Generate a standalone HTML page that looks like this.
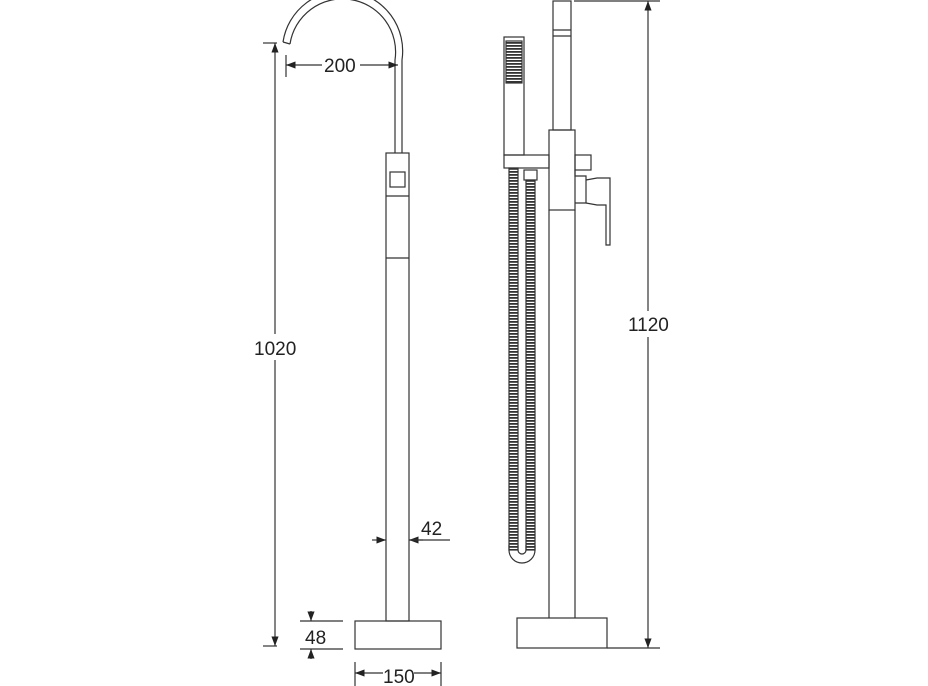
<!DOCTYPE html>
<html><head><style>body{margin:0;background:#fff}svg{display:block}text{font-family:"Liberation Sans",sans-serif;font-size:19px;fill:#222}</style></head><body>
<svg width="928" height="686" viewBox="0 0 928 686" xmlns="http://www.w3.org/2000/svg">
<defs>
<pattern id="hs" width="10" height="3" patternUnits="userSpaceOnUse"><rect width="10" height="3" fill="#fff"/><rect width="10" height="1.8" fill="#333"/></pattern>
<marker id="a" markerWidth="8" markerHeight="6" refX="8" refY="3" orient="auto-start-reverse"><path d="M0,0L8,3L0,6z" fill="#222"/></marker>
</defs>
<g stroke="#333" stroke-width="1.2" fill="none">
<path d="M283,42 A59,59 0 0 1 402,60 L402,153"/>
<path d="M290,44 A52,52 0 0 1 395,60 L395,153"/>
<path d="M283,42 L290,44"/>
<rect x="386" y="153" width="23" height="468"/>
<line x1="386" y1="196" x2="409" y2="196"/>
<line x1="386" y1="258" x2="409" y2="258"/>
<rect x="390" y="172" width="15" height="15"/>
<rect x="355" y="621" width="86" height="28"/>
<line x1="263" y1="43" x2="277" y2="43"/>
<line x1="275" y1="43" x2="275" y2="646" marker-start="url(#a)" marker-end="url(#a)"/>
<line x1="263" y1="646" x2="277" y2="646"/>
<line x1="286" y1="55" x2="286" y2="77"/>
<line x1="286" y1="65" x2="322" y2="65" marker-start="url(#a)"/>
<line x1="360" y1="65" x2="398" y2="65" marker-end="url(#a)"/>
<line x1="372" y1="540" x2="386" y2="540" marker-end="url(#a)"/>
<line x1="423" y1="540" x2="409" y2="540" marker-end="url(#a)"/>
<line x1="409" y1="540" x2="450" y2="540"/>
<line x1="300" y1="621" x2="343" y2="621"/>
<line x1="300" y1="649" x2="343" y2="649"/>
<line x1="311" y1="611" x2="311" y2="621" marker-end="url(#a)"/>
<line x1="311" y1="659" x2="311" y2="649" marker-end="url(#a)"/>
<line x1="355" y1="662" x2="355" y2="686"/>
<line x1="441" y1="662" x2="441" y2="686"/>
<line x1="355" y1="673" x2="383" y2="673" marker-start="url(#a)"/>
<line x1="414" y1="673" x2="441" y2="673" marker-end="url(#a)"/>
<rect x="553" y="1" width="18" height="129"/>
<line x1="553" y1="30" x2="571" y2="30"/><line x1="553" y1="36" x2="571" y2="36"/>
<rect x="549" y="130" width="26" height="80"/>
<line x1="549" y1="210" x2="549" y2="618"/><line x1="575" y1="210" x2="575" y2="618"/>
<rect x="575" y="155" width="16" height="15"/>
<path d="M575,170 L575,176 L586,176 L586,203 L575,203"/>
<path d="M586,180 L597,178 L610,178 L610,245 L606,245 L606,205 L597,205 L586,203"/>
<rect x="517" y="618" width="90" height="30"/>
<rect x="504" y="37" width="20" height="118"/>
<rect x="506" y="41" width="16" height="42" fill="url(#hs)"/>
<rect x="504" y="155" width="45" height="13"/>
<rect x="509" y="168" width="9" height="382" fill="url(#hs)"/>
<rect x="526" y="180" width="9" height="370" fill="url(#hs)"/>
<rect x="524" y="170" width="13" height="10"/>
<path d="M509,545 L509,550 A13,13 0 0 0 535,550 L535,545"/>
<path d="M518,545 L518,550 A4,4 0 0 0 526,550 L526,545"/>
<line x1="574" y1="1" x2="660" y2="1"/>
<line x1="607" y1="648" x2="660" y2="648"/>
<line x1="648" y1="1" x2="648" y2="648" marker-start="url(#a)" marker-end="url(#a)"/>
</g>
<g fill="#fff"><rect x="252" y="334" width="50" height="26"/><rect x="322" y="54" width="38" height="22"/><rect x="627" y="311" width="46" height="26"/></g>
<text x="254" y="355">1020</text>
<text x="324" y="72">200</text>
<text x="421" y="535">42</text>
<text x="305" y="644">48</text>
<text x="383" y="683">150</text>
<text x="628" y="331">1120</text>
</svg>
</body></html>
